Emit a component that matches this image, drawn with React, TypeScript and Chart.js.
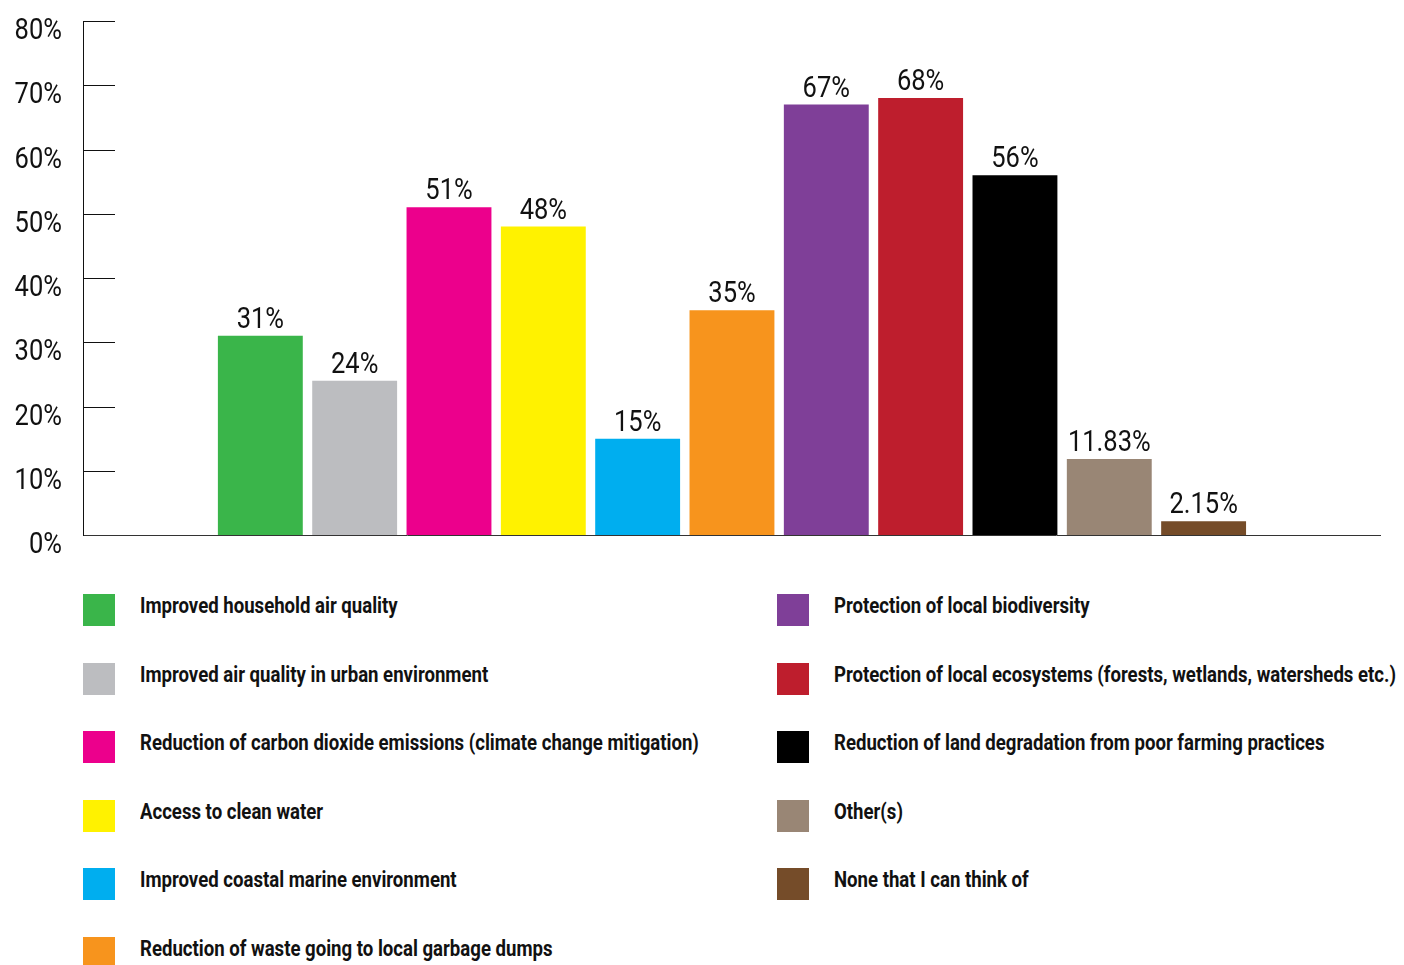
import React, { useEffect, useRef } from "react";
import { Chart, registerables } from "chart.js";

Chart.register(...registerables);

const categories = [
  "Improved household air quality",
  "Improved air quality in urban environment",
  "Reduction of carbon dioxide emissions (climate change mitigation)",
  "Access to clean water",
  "Improved coastal marine environment",
  "Reduction of waste going to local garbage dumps",
  "Protection of local biodiversity",
  "Protection of local ecosystems (forests, wetlands, watersheds etc.)",
  "Reduction of land degradation from poor farming practices",
  "Other(s)",
  "None that I can think of",
];
const values = [31, 24, 51, 48, 15, 35, 67, 68, 56, 11.83, 2.15];
const colors = [
  "#3AB54A",
  "#BCBDC0",
  "#EC008C",
  "#FFF200",
  "#00AEEF",
  "#F7941D",
  "#7F3F98",
  "#BE1E2D",
  "#000000",
  "#998675",
  "#754C29",
];
const yTicks = [0, 10, 20, 30, 40, 50, 60, 70, 80];

const FONT = "Roboto, 'Noto Sans', sans-serif";
const NUM_SCALE = 0.88;

function drawNarrow(ctx: any, text: string, x: number, y: number, align: "center" | "right") {
  ctx.save();
  ctx.translate(x, y);
  ctx.scale(NUM_SCALE, 1);
  ctx.textAlign = align;
  ctx.textBaseline = "alphabetic";
  ctx.fillText(text, 0, 0);
  ctx.restore();
}

const customText = {
  id: "customText",
  afterDraw(chart: any) {
    const ctx = chart.ctx;
    const ys = chart.scales.y;
    const left = chart.chartArea.left;
    ctx.save();
    ctx.strokeStyle = "#111";
    ctx.lineWidth = 1;
    yTicks.forEach((t) => {
      if (t === 0) return;
      const py = Math.round(ys.getPixelForValue(t)) + 0.5;
      ctx.beginPath();
      ctx.moveTo(left, py);
      ctx.lineTo(left + 32, py);
      ctx.stroke();
    });
    ctx.font = `400 29px ${FONT}`;
    ctx.fillStyle = "#111";
    yTicks.forEach((t) => {
      const py = ys.getPixelForValue(t);
      drawNarrow(ctx, `${t}%`, 62, py + 18, "right");
    });
    const meta = chart.getDatasetMeta(0);
    meta.data.forEach((bar: any, i: number) => {
      drawNarrow(ctx, `${values[i]}%`, bar.x, bar.y - 8, "center");
    });
    ctx.restore();
  },
};

export default function App() {
  const ref = useRef<HTMLCanvasElement | null>(null);

  useEffect(() => {
    if (!ref.current) return;
    const chart = new Chart(ref.current, {
      type: "bar",
      data: {
        datasets: [
          {
            label: "Share",
            data: values.map((v, i) => ({ x: i, y: v })),
            backgroundColor: colors,
            borderWidth: 0,
            categoryPercentage: 0.9,
            barPercentage: 1.0,
          } as any,
        ],
      },
      options: {
        animation: false,
        responsive: false,
        maintainAspectRatio: false,
        layout: { padding: { top: 21, bottom: 25, right: 24, left: 0 } },
        plugins: {
          legend: { display: false },
          tooltip: { enabled: false },
        },
        scales: {
          x: {
            type: "linear",
            min: -1.88,
            max: 11.87,
            offset: false,
            grid: { display: false, drawTicks: false },
            ticks: { display: false },
            border: { display: true, color: "#333", width: 1 },
            afterFit: (s: any) => {
              s.height = 0;
              s.paddingLeft = 0;
              s.paddingRight = 0;
            },
          },
          y: {
            min: 0,
            max: 80,
            grid: { display: false, drawTicks: false },
            border: { display: true, color: "#111", width: 1 },
            afterBuildTicks: (s: any) => {
              s.ticks = yTicks.map((v) => ({ value: v }));
            },
            afterFit: (s: any) => {
              s.width = 83;
              s.paddingTop = 0;
              s.paddingBottom = 0;
            },
            ticks: { display: false },
          },
        },
      } as any,
      plugins: [customText],
    });
    return () => chart.destroy();
  }, []);

  const rowTop = (i: number) => 594 + i * 68.5;

  return (
    <div
      style={{
        position: "absolute",
        left: 0,
        top: 0,
        width: 1404,
        height: 965,
        background: "#fff",
        overflow: "hidden",
      }}
    >
      <canvas ref={ref} width={1404} height={560} style={{ display: "block" }} />
      {categories.map((c, i) => {
        const col = i < 6 ? 0 : 1;
        const row = i < 6 ? i : i - 6;
        const boxLeft = col === 0 ? 83 : 777;
        return (
          <div key={c}>
            <div
              style={{
                position: "absolute",
                left: boxLeft,
                top: rowTop(row),
                width: 32,
                height: 32,
                background: colors[i],
              }}
            />
            <div
              style={{
                position: "absolute",
                left: boxLeft + 57,
                top: rowTop(row) - 5,
                height: 32,
                lineHeight: "32px",
                whiteSpace: "nowrap",
                fontFamily: FONT,
                fontWeight: 700,
                fontSize: 22.5,
                color: "#111",
                transform: "scaleX(0.826)",
                transformOrigin: "left center",
              }}
            >
              {c}
            </div>
          </div>
        );
      })}
    </div>
  );
}
